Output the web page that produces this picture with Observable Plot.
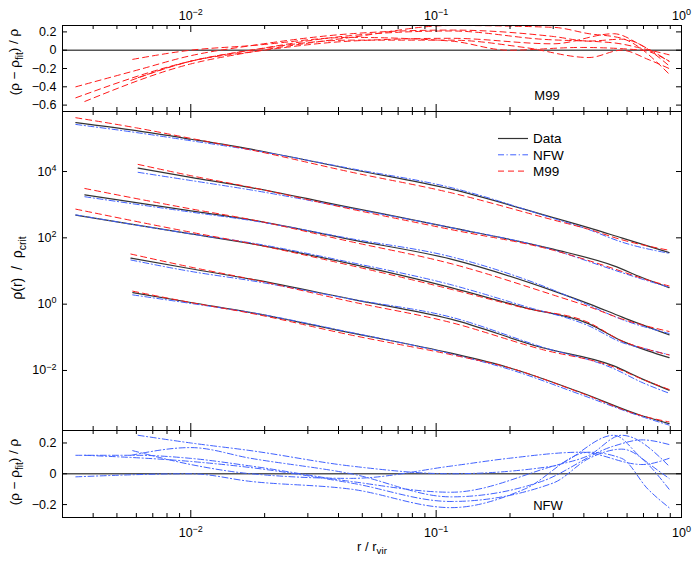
<!DOCTYPE html>
<html><head><meta charset="utf-8">
<script src="https://cdn.jsdelivr.net/npm/d3@7"></script>
<script src="https://cdn.jsdelivr.net/npm/@observablehq/plot@0.6"></script>
<style>
body{margin:0;background:#fff;}
#chart{position:relative;width:693px;height:563px;font-family:"Liberation Sans",Arial,sans-serif;}
#chart svg{position:absolute;left:0;top:0;overflow:visible;}
</style></head><body><div id="chart"></div>
<script>
// ---- data ----
const halos = ["A", "B", "C", "D", "E", "F"];
const r_A = [0.0034, 0.006, 0.01, 0.0176, 0.045, 0.115, 0.30, 0.42, 0.57, 0.89];
const rho_A = [2.99e5, 1.70e5, 9.42e4, 4.71e4, 1.17e4, 2.93e3, 408, 200, 99.8, 36.0];
const resM99_A = [-0.40, -0.22, -0.06, 0.05, 0.18, 0.22, 0.15, 0.10, 0.12, -0.17];
const resNFW_A = [0.12, 0.12, 0.10, 0.05, -0.05, -0.12, 0.05, 0.12, 0.25, 0.05];

const r_B = [0.0061, 0.01, 0.0176, 0.045, 0.115, 0.30, 0.53, 0.69, 0.89];
const rho_B = [1.26e4, 6.70e3, 3.27e3, 817, 204, 45.5, 14.3, 6.34, 3.16];
const resM99_B = [-0.30, -0.12, -0.02, 0.10, 0.13, 0.07, 0.18, 0.05, -0.12];
const resNFW_B = [0.25, 0.20, 0.15, 0.05, 0.00, 0.05, 0.25, 0.10, -0.03];

const r_C = [0.0037, 0.01, 0.0176, 0.045, 0.115, 0.30, 0.42, 0.57, 0.89];
const rho_C = [1.97e3, 650, 348, 88.7, 22.8, 2.52, 1.02, 0.414, 0.119];
const resM99_C = [-0.56, -0.15, -0.02, 0.14, 0.27, 0.25, 0.18, 0.13, -0.26];
const resNFW_C = [0.12, 0.08, 0.04, -0.06, -0.18, -0.06, 0.10, 0.16, -0.10];

const r_D = [0.0034, 0.01, 0.0176, 0.045, 0.115, 0.229, 0.42, 0.57, 0.73, 0.89];
const rho_D = [482, 132, 67.1, 16.4, 3.16, 0.789, 0.255, 0.0783, 0.0391, 0.0245];
const resM99_D = [-0.52, -0.12, 0.00, 0.11, 0.11, 0.03, -0.08, 0.00, -0.10, -0.20];
const resNFW_D = [-0.02, 0.00, -0.05, -0.10, -0.22, -0.10, 0.14, 0.10, -0.10, -0.22];

const r_E = [0.0057, 0.01, 0.0176, 0.045, 0.115, 0.269, 0.53, 0.69, 0.89];
const rho_E = [24.4, 11.7, 5.68, 1.42, 0.353, 0.0492, 0.0138, 0.0056, 0.00255];
const resM99_E = [-0.33, -0.12, 0.00, 0.16, 0.21, 0.12, 0.08, 0.02, -0.05];
const resNFW_E = [0.12, 0.17, 0.10, 0.00, -0.15, -0.05, 0.18, 0.22, 0.19];

const r_F = [0.0058, 0.01, 0.0176, 0.045, 0.115, 0.197, 0.39, 0.69, 0.89];
const rho_F = [2.24, 1.12, 0.558, 0.136, 0.0333, 0.0123, 0.00216, 0.000430, 0.000251];
const resM99_F = [-0.10, 0.00, 0.05, 0.14, 0.10, 0.00, 0.03, 0.00, -0.12];
const resNFW_F = [0.15, 0.06, 0.00, -0.03, 0.05, 0.10, 0.14, 0.06, 0.10];

const xMajor = [0.01, 0.1, 1];
const xMinor = [0.003, 0.004, 0.005, 0.006, 0.007, 0.008, 0.009,
                0.02, 0.03, 0.04, 0.05, 0.06, 0.07, 0.08, 0.09,
                0.2, 0.3, 0.4, 0.5, 0.6, 0.7, 0.8, 0.9];
const topTicks = [0.2, 0, -0.2, -0.4, -0.6];
const mainTicks = [1e-2, 1, 1e2, 1e4];
const botTicks = [0.2, 0, -0.2];
const legendLabels = ["Data", "NFW", "M99"];

// ---- build table ----
const src = {A:[r_A,rho_A,resM99_A,resNFW_A], B:[r_B,rho_B,resM99_B,resNFW_B], C:[r_C,rho_C,resM99_C,resNFW_C],
             D:[r_D,rho_D,resM99_D,resNFW_D], E:[r_E,rho_E,resM99_E,resNFW_E], F:[r_F,rho_F,resM99_F,resNFW_F]};
const rows = [];
for (const h of halos) {
  const [r, rho, m, n] = src[h];
  r.forEach((rv, i) => rows.push({halo: h, r: rv, rho: rho[i], m99: rho[i] * (1 - m[i]), nfw: rho[i] * (1 - n[i]), resM99: m[i], resNFW: n[i]}));
}

const W = 693, H = 563, ML = 62, MR = 12, PW = W - ML - MR;
const RED = "#ff1a1a", BLUE = "#4062ff", BLACK = "#333";
const DASH = "6,4", DASHDOT = "6,2.5,1.2,2.5";
const font = "Liberation Sans, Arial, sans-serif";
const CURVE = "monotone-x";

function tickMarks(ph, yt) {
  return [
    Plot.tickX(xMinor, {x: d => d, insetTop: ph - 4, stroke: "black"}),
    Plot.tickX(xMinor, {x: d => d, insetBottom: ph - 4, stroke: "black"}),
    Plot.tickX(xMajor, {x: d => d, insetTop: ph - 7, stroke: "black"}),
    Plot.tickX(xMajor, {x: d => d, insetBottom: ph - 7, stroke: "black"}),
    Plot.tickY(yt, {y: d => d, insetRight: PW - 5, stroke: "black"}),
    Plot.tickY(yt, {y: d => d, insetLeft: PW - 5, stroke: "black"}),
    Plot.frame({stroke: "black", strokeWidth: 1})
  ];
}
const expFmt = d => "10^" + Math.round(Math.log10(d));
const resFmt = d => d === 0 ? "0" : d.toFixed(1).replace("-", "\u2212");
const baseOpts = (mt, mb) => ({
  width: W, height: H, marginLeft: ML, marginRight: MR, marginTop: mt, marginBottom: mb,
  style: {fontFamily: font, fontSize: "12px", background: "transparent", overflow: "visible"},
  x: {type: "log", domain: [0.003, 1]}
});

// top (M99 residuals)
const topPlot = Plot.plot({
  ...baseOpts(25, 452),
  y: {domain: [-0.67, 0.27]},
  marks: [
    Plot.ruleY([0], {stroke: "#555", strokeWidth: 1.5}),
    Plot.line(rows, {x: "r", y: "resM99", z: "halo", stroke: RED, strokeWidth: 1, strokeDasharray: DASH, curve: CURVE, clip: true}),
    ...tickMarks(86, topTicks),
    Plot.axisY(topTicks, {tickSize: 0, tickPadding: 6, tickFormat: resFmt, label: null, fontSize: 12.5}),
    Plot.axisX(xMajor, {anchor: "top", tickSize: 0, tickPadding: 6, tickFormat: expFmt, label: null, fontSize: 12.5})
  ]
});

// main
const mainPlot = Plot.plot({
  ...baseOpts(111, 133),
  y: {type: "log", domain: [10 ** -3.81, 10 ** 5.81]},
  marks: [
    Plot.line(rows, {x: "r", y: "rho", z: "halo", stroke: BLACK, strokeWidth: 1.2, curve: CURVE}),
    Plot.line(rows, {x: "r", y: "nfw", z: "halo", stroke: BLUE, strokeWidth: 1, strokeDasharray: DASHDOT, curve: CURVE}),
    Plot.line(rows, {x: "r", y: "m99", z: "halo", stroke: RED, strokeWidth: 1, strokeDasharray: DASH, curve: CURVE}),
    ...tickMarks(319, mainTicks),
    Plot.axisY(mainTicks, {tickSize: 0, tickPadding: 6, tickFormat: expFmt, label: null, fontSize: 12.5}),
    Plot.axisX([], {label: null})
  ]
});

// bottom (NFW residuals)
const botPlot = Plot.plot({
  ...baseOpts(430, 46),
  y: {domain: [-0.284, 0.281]},
  marks: [
    Plot.ruleY([0], {stroke: "#555", strokeWidth: 1.5}),
    Plot.line(rows, {x: "r", y: "resNFW", z: "halo", stroke: BLUE, strokeWidth: 1, strokeDasharray: DASHDOT, curve: CURVE, clip: true}),
    ...tickMarks(87, botTicks),
    Plot.axisY(botTicks, {tickSize: 0, tickPadding: 6, tickFormat: resFmt, label: null, fontSize: 12.5}),
    Plot.axisX(xMajor, {anchor: "bottom", tickSize: 0, tickPadding: 11, tickFormat: expFmt, label: null, fontSize: 12.5})
  ]
});

const chart = document.getElementById("chart");
[topPlot, mainPlot, botPlot].forEach(p => chart.appendChild(p));

// superscripts for 10^n labels
d3.selectAll("#chart svg text").each(function() {
  const t = this.textContent;
  const m = /^10\^(-?\d+)$/.exec(t);
  if (!m) return;
  const sel = d3.select(this);
  sel.text("");
  sel.append("tspan").text("10");
  sel.append("tspan").attr("dy", "-0.55em").attr("font-size", "0.72em").text(m[1].replace("-", "\u2212"));
});

// helper for rich text
function rich(svg, x, y, parts, {rotate = false, size = 13, anchor = "middle"} = {}) {
  const t = d3.select(svg).append("text")
    .attr("font-family", font).attr("font-size", size).attr("fill", "black")
    .attr("text-anchor", anchor)
    .attr("transform", rotate ? `translate(${x},${y}) rotate(-90)` : `translate(${x},${y})`);
  let shift = 0;
  for (const [s, kind] of parts) {
    const target = kind === "sub" ? 0.35 : 0;
    const sp = t.append("tspan").text(s);
    const dy = target - shift;
    if (dy !== 0) sp.attr("dy", dy + "em");
    if (kind === "sub") sp.attr("font-size", "0.75em");
    shift = target;
  }
  return t;
}
const sTop = topPlot, sMain = mainPlot, sBot = botPlot;
rich(sTop, 19, 62, [["(\u03c1 \u2212 \u03c1", "n"], ["fit", "sub"], [") / \u03c1", "n"]], {rotate: true, size: 13.5});
rich(sBot, 19, 472, [["(\u03c1 \u2212 \u03c1", "n"], ["fit", "sub"], [") / \u03c1", "n"]], {rotate: true, size: 13.5});
rich(sMain, 22, 268, [["\u03c1(r)  /  \u03c1", "n"], ["crit", "sub"]], {rotate: true, size: 14});
rich(sBot, 372, 551, [["r / r", "n"], ["vir", "sub"]], {size: 13});
rich(sTop, 547, 100, [["M99", "n"]], {size: 13});
rich(sBot, 548, 510, [["NFW", "n"]], {size: 13});

// legend
const leg = d3.select(sMain).append("g").attr("text-anchor", "start");
const legStyles = [[BLACK, null, 1.2], [BLUE, DASHDOT, 1], [RED, DASH, 1]];
legendLabels.forEach((lab, i) => {
  const y = 138.5 + i * 16.3;
  const [c, da, w] = legStyles[i];
  const ln = leg.append("line").attr("x1", 498).attr("x2", 528).attr("y1", y).attr("y2", y)
    .attr("stroke", c).attr("stroke-width", w);
  if (da) ln.attr("stroke-dasharray", da);
  leg.append("text").attr("x", 533).attr("y", y).attr("dy", "0.36em").attr("text-anchor", "start")
    .attr("font-family", font).attr("font-size", 13.5).text(lab);
});
</script></body></html>
